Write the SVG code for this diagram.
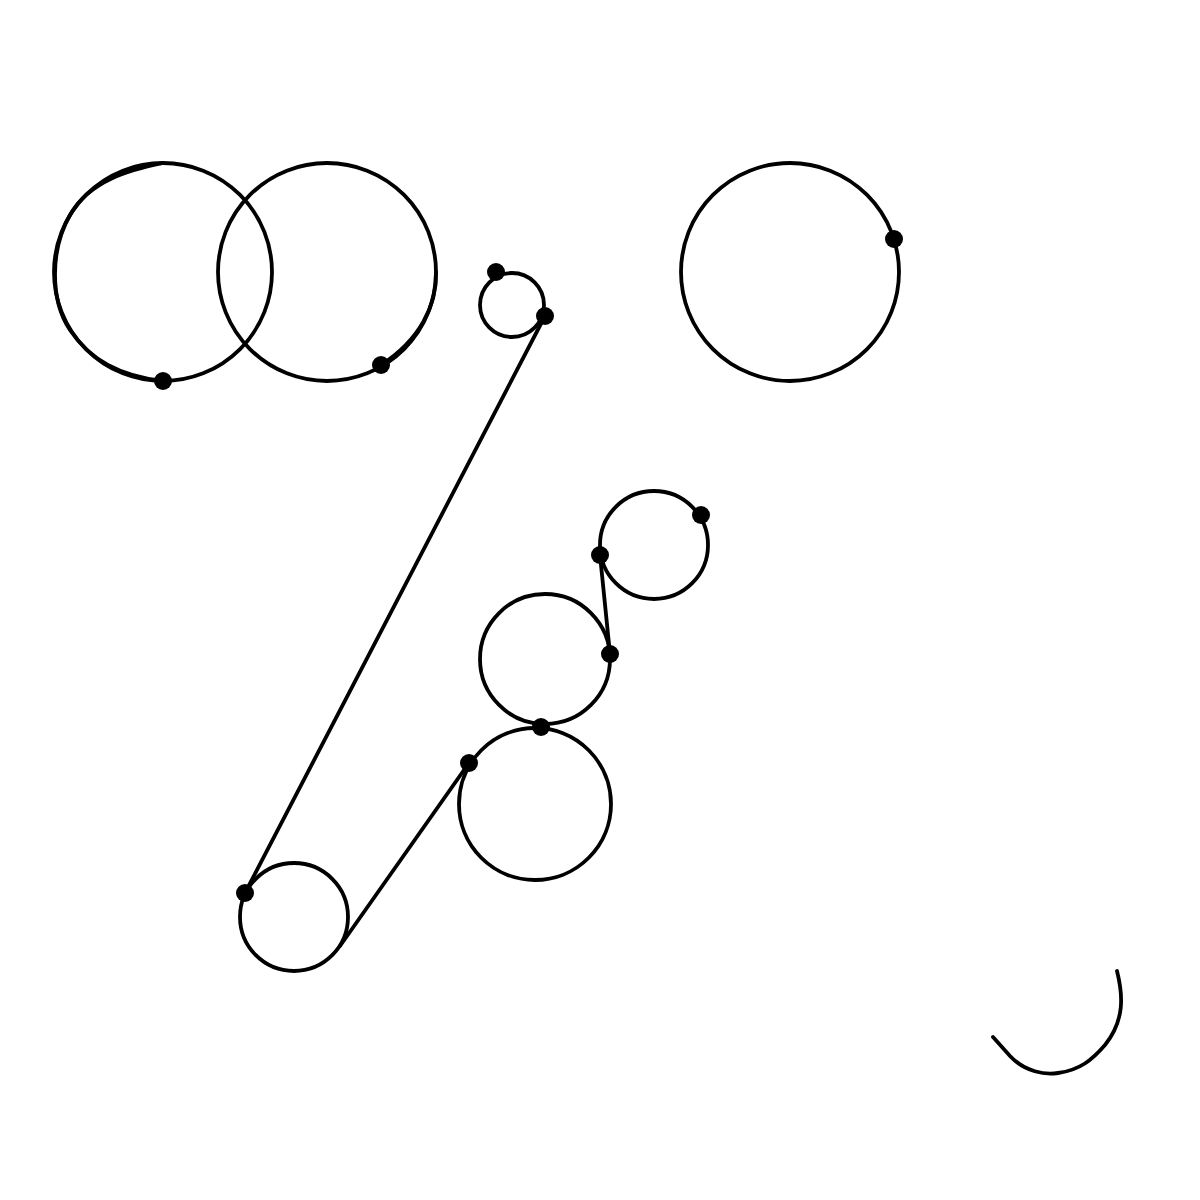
<svg xmlns="http://www.w3.org/2000/svg" width="1200" height="1200" viewBox="0 0 1200 1200">
<style>
.c{fill:none;stroke:#000;stroke-width:3.8}
.l{fill:none;stroke:#000;stroke-width:3.8;stroke-linecap:round}
.d{fill:#000}
</style>
<rect width="1200" height="1200" fill="#fff"/>
<g id="circleA"><circle class="c" cx="163" cy="272" r="109"/>
<path class="l" d="M163,163 C130,170 90,180 70,215 C50,250 50,300 70,330 C90,360 120,376 163,381"/>
<circle class="d" cx="163" cy="381" r="9"/></g>
<g id="circleB"><circle class="c" cx="327" cy="272" r="109"/>
<path class="l" d="M381,365 C420,340 437,305 436,272"/>
<circle class="d" cx="381" cy="365" r="9"/></g>
<g id="circleSmall"><circle class="c" cx="512" cy="305" r="32"/>
<circle class="d" cx="496" cy="272" r="9"/><circle class="d" cx="545" cy="316" r="9"/></g>
<g id="circleRight"><circle class="c" cx="790" cy="272" r="109"/>
<circle class="d" cx="894" cy="239" r="9"/></g>
<g id="circle4"><circle class="c" cx="654" cy="545" r="54"/>
<circle class="d" cx="701" cy="515" r="9"/><circle class="d" cx="600" cy="555" r="9"/></g>
<g id="circle5"><circle class="c" cx="545" cy="659" r="65"/>
<circle class="d" cx="610" cy="654" r="9"/><circle class="d" cx="541" cy="727" r="9"/></g>
<g id="circle6"><circle class="c" cx="535" cy="804" r="76"/>
<circle class="d" cx="469" cy="763" r="9"/></g>
<g id="circle7"><circle class="c" cx="294" cy="917" r="54"/>
<circle class="d" cx="245" cy="893" r="9"/></g>
<g id="connectors">
<line class="l" x1="545" y1="316" x2="245" y2="893"/>
<line class="l" x1="469" y1="763" x2="340" y2="946"/>
<line class="l" x1="600" y1="555" x2="610" y2="654"/>
<path class="l" d="M993,1037 L1010,1056 C1025,1072 1045,1075 1058,1073 C1080,1070 1092,1060 1105,1045 C1125,1020 1123,995 1117,971"/>
</g>
</svg>
